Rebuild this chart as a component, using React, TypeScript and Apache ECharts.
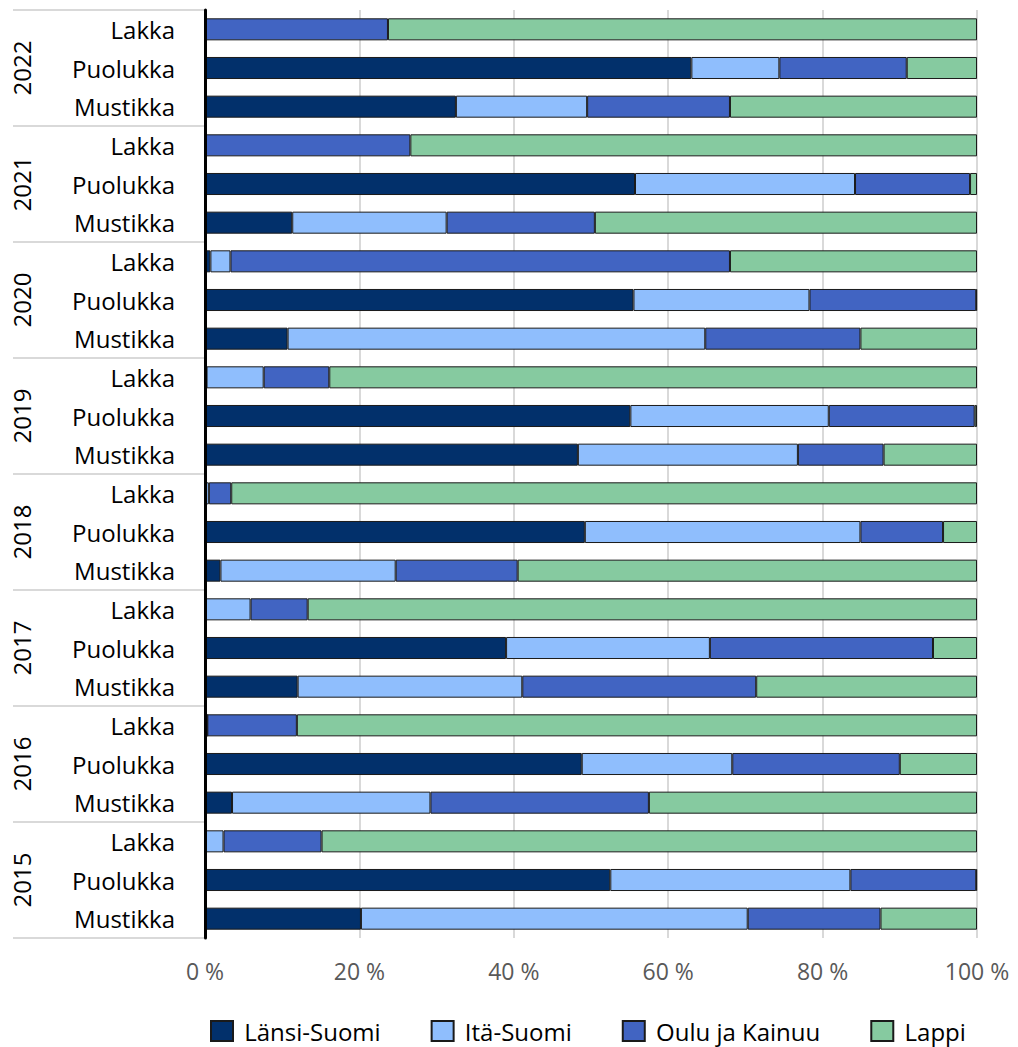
import React, { useEffect, useRef } from "react";
import * as echarts from "echarts";

const years = ["2022", "2021", "2020", "2019", "2018", "2017", "2016", "2015"];
const berries = ["Lakka", "Puolukka", "Mustikka"];
const seriesNames = ["Länsi-Suomi", "Itä-Suomi", "Oulu ja Kainuu", "Lappi"];
const colors = ["#02306B", "#8FBEFD", "#4164C2", "#86CAA0"];
const xTicks = [0, 20, 40, 60, 80, 100];

// rows top to bottom: for each year Lakka, Puolukka, Mustikka
const lansiSuomi = [
  0, 63.0, 32.5,
  0, 55.7, 11.3,
  0.7, 55.5, 10.7,
  0.2, 55.1, 48.3,
  0, 49.2, 2.0,
  0, 39.0, 12.0,
  0.3, 48.8, 3.5,
  0, 52.5, 20.2,
];
const itaSuomi = [
  0, 11.4, 17.0,
  0, 28.5, 20.0,
  2.6, 22.8, 54.1,
  7.4, 25.7, 28.5,
  0.5, 35.7, 22.7,
  5.9, 26.4, 29.1,
  0, 19.5, 25.7,
  2.4, 31.1, 50.1,
];
const ouluKainuu = [
  23.7, 16.5, 18.5,
  26.6, 14.9, 19.2,
  64.7, 21.6, 20.1,
  8.5, 18.9, 11.1,
  2.9, 10.7, 15.8,
  7.4, 28.9, 30.3,
  11.6, 21.7, 28.3,
  12.7, 16.3, 17.2,
];
const lappi = [
  76.3, 9.1, 32.0,
  73.4, 0.9, 49.5,
  32.0, 0.1, 15.1,
  83.9, 0.3, 12.1,
  96.6, 4.4, 59.5,
  86.7, 5.7, 28.6,
  88.1, 10.0, 42.5,
  84.9, 0.1, 12.5,
];

const FONT = "Open Sans";

export default function App() {
  const ref = useRef<HTMLDivElement>(null);
  useEffect(() => {
    if (!ref.current) return;
    const chart = echarts.init(ref.current, null, { renderer: "svg" });
    const rowLabels: string[] = [];
    years.forEach(() => berries.forEach((b) => rowLabels.push(b)));
    const values = [lansiSuomi, itaSuomi, ouluKainuu, lappi];
    chart.setOption({
      animation: false,
      backgroundColor: "#ffffff",
      textStyle: { fontFamily: FONT },
      grid: { left: 205, right: 41, top: 10, bottom: 109, containLabel: false },
      legend: {
        data: seriesNames,
        top: 1014,
        left: 205,
        itemGap: 50,
        itemWidth: 22,
        itemHeight: 20,
        icon: "rect",
        formatter: (name: string) => " " + name,
        textStyle: {
          fontSize: 24,
          color: "#000",
          fontFamily: FONT,
        },
      },
      xAxis: {
        type: "value",
        min: xTicks[0],
        max: xTicks[xTicks.length - 1],
        interval: 20,
        axisLine: { show: false },
        axisTick: { show: false },
        splitLine: { lineStyle: { color: "#d9d9d9", width: 2 } },
        axisLabel: {
          formatter: "{value} %",
          color: "#595959",
          fontSize: 23,
          margin: 21,
          fontFamily: FONT,
        },
      },
      yAxis: [
        {
          type: "category",
          data: rowLabels,
          inverse: true,
          axisLine: { show: true, lineStyle: { color: "#000", width: 3 } },
          axisTick: { show: false },
          axisLabel: {
            interval: 0,
            fontSize: 24,
            color: "#000",
            margin: 30,
            fontFamily: FONT,
          },
          z: 5,
        },
        {
          type: "category",
          data: years,
          inverse: true,
          position: "left",
          axisLine: { show: false },
          axisTick: {
            show: true,
            length: 192,
            interval: 0,
            lineStyle: { color: "#d9d9d9", width: 2 },
          },
          axisLabel: {
            interval: 0,
            rotate: 90,
            fontSize: 24,
            color: "#000",
            margin: 172,
            fontFamily: FONT,
          },
        },
      ],
      series: seriesNames.map((name, i) => ({
        name,
        type: "bar",
        stack: "total",
        yAxisIndex: 0,
        barCategoryGap: "43%",
        data: values[i],
        itemStyle: { color: colors[i], borderColor: "#1a1a1a", borderWidth: 1 },
      })),
    });
    return () => chart.dispose();
  }, []);
  return (
    <div
      ref={ref}
      style={{ position: "fixed", left: 0, top: 0, width: 1018, height: 1047 }}
    />
  );
}
